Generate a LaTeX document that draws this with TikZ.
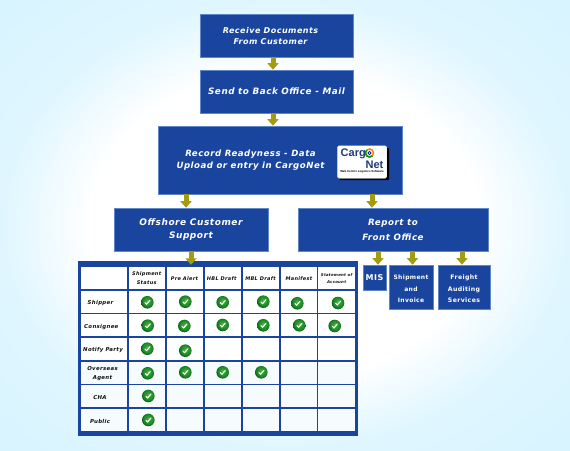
\documentclass[tikz,border=0pt]{standalone}
\usepackage{fontspec}
\setmainfont{DejaVu Sans}
\newfontfamily\vfont[LetterSpace=6]{DejaVu Sans}
\newfontfamily\logofont{Liberation Sans}
\usetikzlibrary{arrows.meta,shadings,calc}
\definecolor{boxblue}{HTML}{1A459F}
\definecolor{boxedge}{HTML}{5F86C8}
\definecolor{tblblue}{HTML}{1A459F}
\definecolor{arrowolive}{HTML}{A39C10}
\definecolor{bgedge}{HTML}{DFF6FF}
\definecolor{bgcorner}{HTML}{D8F4FF}
\definecolor{inkblack}{HTML}{111111}
\definecolor{logoblue}{HTML}{1F3A78}
\definecolor{tintcell}{HTML}{F6FBFE}
\definecolor{ballin}{HTML}{2FA02F}
\definecolor{ballout}{HTML}{0A641A}
\pgfdeclareradialshading{pagebg}{\pgfpoint{0pt}{0pt}}{
 color(0bp)=(white); color(17bp)=(white); color(25bp)=(bgedge); color(35bp)=(bgcorner); color(50bp)=(bgcorner)}
\pgfdeclareradialshading{ballshade}{\pgfpoint{0bp}{6bp}}{
 color(0bp)=(ballin!75!white); color(8bp)=(ballin); color(20bp)=(ballin!60!ballout); color(25bp)=(ballout); color(50bp)=(ballout)}
\tikzset{
 x=1pt,y=-1pt,
 flowbox/.style={draw=boxedge,line width=.6pt,fill=boxblue,text=white,align=center,inner sep=0pt,
   font=\vfont\bfseries\itshape\fontsize{8.7}{15}\selectfont},
 flowtext/.style={text=white,align=center,inner sep=0pt},
 smallbox/.style={flowbox,font=\vfont\bfseries\fontsize{6}{11.5}\selectfont},
 flowarrow/.style={draw=arrowolive,line width=5pt,-{Triangle[width=11pt,length=6.5pt]}},
 cellbox/.style={draw=none,fill=white,minimum height=21.7pt,inner sep=0pt,align=center},
 headtext/.style={inner sep=0pt,align=center,text=inkblack,font=\vfont\bfseries\itshape\fontsize{5}{9}\selectfont},
 rowlabel/.style={text=inkblack,align=center,inner sep=0pt,font=\vfont\bfseries\itshape\fontsize{5.4}{8.7}\selectfont},
 ball/.style={circle,minimum size=12.6pt,inner sep=0pt,shading=ballshade},
 tick/.style={draw=white,line width=1.1pt,line cap=round,line join=round},
}
\newcommand{\chk}[3]{%
 \node[ball] (#1) at (#2,#3) {};
 \draw[tick] ($(#1.center)+(-2.4,0.2)$) -- ($(#1.center)+(-0.7,2)$) -- ($(#1.center)+(2.6,-1.9)$);}
\begin{document}
\begin{tikzpicture}
\useasboundingbox (0,0) rectangle (570,450);
\shade[shading=pagebg] (0,0) rectangle (570,450);
% flow boxes
\node[flowbox,minimum width=153pt,minimum height=43pt] (recv) at (276.5,35.5) {};
\node[flowtext,font=\vfont\bfseries\itshape\fontsize{8}{10.6}\selectfont] (recvt) at (270.5,36) {Receive Documents\\From Customer};
\node[flowbox,minimum width=153pt,minimum height=43pt,font=\vfont\bfseries\itshape\fontsize{8.8}{11}\selectfont] (send) at (276.5,91.5) {Send to Back Office - Mail};
\node[flowbox,minimum width=244pt,minimum height=68pt] (rec) at (280,160) {};
\node[flowtext,font=\vfont\bfseries\itshape\fontsize{8.6}{11.5}\selectfont] (rect) at (250.5,160) {Record Readyness - Data\\Upload or entry in CargoNet};
\node[flowbox,minimum width=154pt,minimum height=43pt,font=\vfont\bfseries\itshape\fontsize{9}{12.5}\selectfont] (off) at (191,229.5) {Offshore Customer\\Support};
\node[flowbox,minimum width=190pt,minimum height=43pt] (rep) at (393,229.5) {Report to\\Front Office};
\node[smallbox,minimum width=23pt,minimum height=25pt,font=\vfont\bfseries\fontsize{8}{10}\selectfont] (mis) at (374.5,277.5) {MIS};
\node[smallbox,minimum width=44pt,minimum height=44pt] (ship) at (411,287) {\rule{0pt}{9pt}Shipment\\and\\Invoice};
\node[smallbox,minimum width=52pt,minimum height=44pt,font=\vfont\bfseries\fontsize{6.2}{11.5}\selectfont] (frt) at (464,287) {\rule{0pt}{9pt}Freight\\Auditing\\Services};
% logo
\fill[black,rounded corners=1pt] (339,148) rectangle (389,180);
\node[fill=white,draw=black!15,line width=.3pt,rounded corners=1.5pt,minimum width=49.5pt,minimum height=32.5pt,inner sep=0pt] (logo) at (362,162) {};
\node[font=\logofont\bfseries\fontsize{11}{11}\selectfont,text=logoblue,inner sep=0pt,anchor=west] (lg1) at (340.5,154.3) {Carg};
\node[font=\logofont\bfseries\fontsize{11}{11}\selectfont,text=logoblue,inner sep=0pt,anchor=east] (lg2) at (383.5,164.5) {Net};
\draw[orange,line width=1.5pt] (369.5,153) circle (4);
\draw[green!60!black,line width=1.5pt] (366.67,150.17) arc (225:45:4);
\draw[blue!70!black,line width=.7pt] (369.5,153) circle (1.6);
\node[font=\logofont\bfseries\fontsize{2.9}{3}\selectfont,text=black,inner sep=0pt] (lg3) at (362,171.5) {Web Centric Logistics Software};
% table
\node[fill=tblblue,minimum width=280pt,minimum height=175pt,inner sep=0pt] (tbl) at (218,348.5) {};
\foreach \c/\xx/\w in {0/103.5/46,1/146.5/36,2/184.5/36,3/222.5/36,4/260.5/36,5/298.5/36,6/336.6/36.3}{
 \foreach \r/\yy/\cf in {0/278.3/white,1/301.9/white,2/325.3/white,3/349/white,4/372.7/tintcell,5/396.3/tintcell,6/420/tintcell}{
  \node[cellbox,minimum width=\w pt,fill=\cf] (c\c-\r) at (\xx,\yy) {};
 }}
\node[headtext] (h1) at (146.7,278.5) {Shipment\\Status};
\node[headtext] (h2) at (184.5,278.3) {Pre Alert};
\node[headtext] (h3) at (221.7,278.3) {HBL Draft};
\node[headtext] (h4) at (260.5,279) {MBL Draft};
\node[headtext] (h5) at (299,279) {Manifest};
\node[headtext,font=\vfont\bfseries\itshape\fontsize{3.9}{7.3}\selectfont] (h6) at (336.6,278.7) {Statement of\\Account};
\node[rowlabel] (r1) at (100.5,303) {Shipper};
\node[rowlabel] (r2) at (101.3,326.7) {Consignee};
\node[rowlabel] (r3) at (103,349.7) {Notify Party};
\node[rowlabel] (r4) at (102.5,373.3) {Overseas\\Agent};
\node[rowlabel] (r5) at (100,397.5) {CHA};
\node[rowlabel] (r6) at (100,421) {Public};
\chk{a1}{147.3}{302.3}\chk{a2}{185.3}{301.7}\chk{a3}{222.7}{302.3}\chk{a4}{263.3}{301.7}\chk{a5}{297.3}{303.3}\chk{a6}{338}{303}
\chk{b1}{147.7}{325.7}\chk{b2}{184.3}{326}\chk{b3}{222.7}{325}\chk{b4}{263.3}{325.3}\chk{b5}{299.3}{325.3}\chk{b6}{334.7}{326}
\chk{d1}{147.3}{348.7}\chk{d2}{185.3}{350.7}
\chk{e1}{147.7}{373.3}\chk{e2}{185.3}{372.3}\chk{e3}{222.7}{372.3}\chk{e4}{261.3}{372.3}
\chk{f1}{148.3}{396}
\chk{g1}{148.3}{420}
% connectors
\draw[flowarrow] ($(recv.south)+(-3.5,0)$) -- ($(send.north)+(-3.5,0)$);
\draw[flowarrow] ($(send.south)+(-3.5,0)$) -- ($(rec.north)+(-7,0)$);
\draw[flowarrow] ($(rec.south)+(-94,0)$) -- ($(off.north)+(-5,0)$);
\draw[flowarrow] ($(rec.south)+(92,0)$) -- ($(rep.north)+(-21,0)$);
\draw[flowarrow] (off.south) -- ($(tbl.north)+(-27,4)$);
\draw[flowarrow] ($(rep.south)+(-15,0)$) -- ($(mis.north)+(3.5,0)$);
\draw[flowarrow] ($(rep.south)+(19.5,0)$) -- ($(ship.north)+(1.5,0)$);
\draw[flowarrow] ($(rep.south)+(69,0)$) -- ($(frt.north)+(-2,0)$);
\end{tikzpicture}
\end{document}
